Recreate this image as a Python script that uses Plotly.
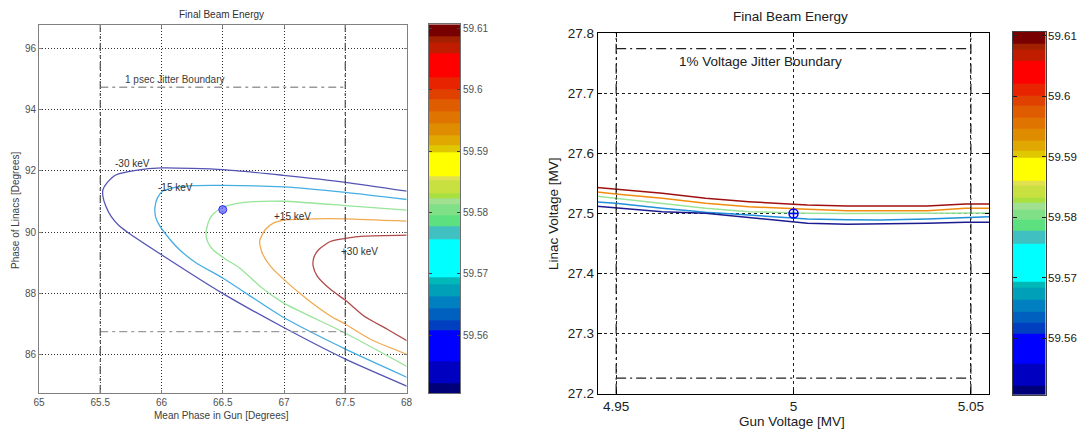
import plotly.graph_objects as go

# ---------------- data ----------------
# Left panel: Final beam energy contours vs gun phase / linac phase
left_levels = ["-30 keV", "-15 keV", "0 keV", "+15 keV", "+30 keV"]
left_m30_x = [68.01, 67.502, 66.995, 66.504, 66.005, 65.79, 65.627, 65.555, 65.522, 65.522, 65.545, 65.59, 65.65, 65.72, 66.003, 66.502, 66.998, 67.502, 68.01]
left_m30_y = [91.327, 91.62, 91.847, 92.033, 92.088, 92.01, 91.86, 91.6, 91.38, 91.15, 90.85, 90.5, 90.22, 90.0, 89.25, 87.99, 86.885, 85.854, 84.96]
left_m15_x = [68.01, 67.502, 66.995, 66.507, 66.253, 66.09, 66.008, 65.967, 65.946, 65.954, 65.987, 66.036, 66.145, 66.281, 66.499, 66.998, 67.502, 68.01]
left_m15_y = [91.057, 91.294, 91.47, 91.522, 91.512, 91.437, 91.327, 91.112, 90.787, 90.462, 90.189, 89.919, 89.431, 88.998, 88.5, 87.21, 86.179, 85.25]
left_0_x = [68.01, 67.502, 66.998, 66.75, 66.62, 66.5, 66.42, 66.385, 66.363, 66.375, 66.42, 66.527, 66.635, 66.834, 66.998, 67.502, 68.01]
left_0_y = [90.709, 90.862, 91.002, 90.99, 90.93, 90.8, 90.58, 90.35, 89.974, 89.7, 89.42, 89.106, 88.836, 88.13, 87.68, 86.699, 85.6]
left_p15_x = [68.01, 67.502, 67.243, 66.998, 66.916, 66.848, 66.801, 66.821, 66.889, 66.998, 67.189, 67.379, 67.502, 67.706, 68.01]
left_p15_y = [90.351, 90.429, 90.429, 90.39, 90.299, 90.081, 89.701, 89.323, 88.888, 88.455, 87.805, 87.262, 86.992, 86.504, 86.0]
left_p30_x = [68.01, 67.652, 67.502, 67.379, 67.284, 67.243, 67.238, 67.271, 67.379, 67.502, 67.652, 67.843, 68.01]
left_p30_y = [89.896, 89.863, 89.789, 89.691, 89.431, 89.161, 88.888, 88.563, 88.13, 87.772, 87.262, 86.829, 86.44]
left_center = (66.5, 90.73)
left_jitter_x = [65.5, 67.5]
left_jitter_y = [86.75, 94.72]

# Right panel: Final beam energy contours vs gun voltage / linac voltage
right_x = [4.944, 4.9499, 4.963, 4.9752, 4.9874, 4.9987, 5.0039, 5.0151, 5.0245, 5.0377, 5.0485, 5.056]
right_p30_y = [27.5436, 27.5407, 27.5336, 27.5253, 27.5196, 27.5158, 27.5141, 27.5125, 27.5125, 27.5125, 27.5158, 27.5158]
right_p15_y = [27.5362, 27.5324, 27.5253, 27.517, 27.5113, 27.5075, 27.507, 27.5047, 27.5047, 27.5047, 27.5087, 27.5087]
right_0_y = [27.5291, 27.5253, 27.517, 27.5087, 27.503, 27.501, 27.5004, 27.4998, 27.4998, 27.4998, 27.5004, 27.501]
right_m15_y = [27.5196, 27.517, 27.5087, 27.502, 27.4975, 27.4937, 27.4909, 27.4895, 27.4892, 27.491, 27.493, 27.4947]
right_m30_y = [27.5125, 27.5097, 27.503, 27.5004, 27.4937, 27.4864, 27.4837, 27.4821, 27.4825, 27.4837, 27.4854, 27.4854]
right_center = (5.0, 27.5)
right_jitter_x = [4.95, 5.05]
right_jitter_y = [27.2261, 27.7745]

# Colour bar (MeV): band edges, band colours, ticks
cbar_edges = [59.5506, 59.5522, 59.5558, 59.5608, 59.5625, 59.5644, 59.5663, 59.5683, 59.5694,
              59.5757, 59.5777, 59.5796, 59.5813, 59.5824, 59.5832, 59.5852, 59.5860, 59.5899,
              59.5910, 59.5926, 59.5946, 59.5965, 59.5985, 59.6001, 59.6021, 59.6059, 59.6077,
              59.6087, 59.6107]
cbar_colors = ["#000078", "#0000c0", "#0000ff", "#0040c0", "#0060c0", "#0080c0", "#00a0b8", "#00b8b8",
               "#00ffff", "#40c0c0", "#5ce080", "#80e088", "#a0e090", "#a8e040", "#c8e040", "#e0e050",
               "#ffff00", "#e0c800", "#e0a800", "#e08c00", "#e07400", "#e05c00", "#e04000", "#e82400",
               "#ff0000", "#c01c00", "#a02000", "#780000"]
cbar_ticks = [59.56, 59.57, 59.58, 59.59, 59.60, 59.61]
cbar_ticktext = ["59.56", "59.57", "59.58", "59.59", "59.6", "59.61"]

left_xticks = [65, 65.5, 66, 66.5, 67, 67.5, 68]
left_xticktext = ["65", "65.5", "66", "66.5", "67", "67.5", "68"]
left_yticks = [86, 88, 90, 92, 94, 96]
right_xticks = [4.95, 5.0, 5.05]
right_xticktext = ["4.95", "5", "5.05"]
right_yticks = [27.2, 27.3, 27.4, 27.5, 27.6, 27.7, 27.8]

# ---------------- styling / layout ----------------
# The page body adds an 8px margin all round; lay out in page pixels and keep the
# figure inside the visible page.
OX, OY = 8, 8
W, H = 1086 - 2 * OX, 437 - 2 * OY
FONT = "Liberation Sans, Arial, sans-serif"
def fx(px):
    return (px - OX) / W
def fy(py):
    return 1 - (py - OY) / H

left_colors = ["#5454b4", "#46aee4", "#98e498", "#f0aa50", "#b04a4a"]
right_colors = ["#a01010", "#f08c10", "#98e498", "#2090d8", "#1c1c90"]

fig = go.Figure()

# Left contours
left_lines = [(left_m30_x, left_m30_y), (left_m15_x, left_m15_y), (left_0_x, left_0_y),
              (left_p15_x, left_p15_y), (left_p30_x, left_p30_y)]
for (xs, ys), c, name in zip(left_lines, left_colors, left_levels):
    fig.add_trace(go.Scatter(x=xs, y=ys, mode="lines", line=dict(color=c, width=1.3, shape="spline", smoothing=0.6),
                             name=name, showlegend=False, xaxis="x", yaxis="y", hoverinfo="skip"))

# Left jitter boundary
LX0, LX1 = 65.0, 68.0
LY0, LY1 = 84.75, 96.75
for yv in left_jitter_y:
    fig.add_trace(go.Scatter(x=left_jitter_x, y=[yv, yv], mode="lines",
                             line=dict(color="#9a9a9a", width=1.3, dash="8px,4px,3px,4px"),
                             showlegend=False, xaxis="x", yaxis="y", hoverinfo="skip"))
for xv in left_jitter_x:
    fig.add_trace(go.Scatter(x=[xv, xv], y=[LY0, LY1], mode="lines",
                             line=dict(color="#505050", width=1.2, dash="8px,4px,3px,4px"),
                             showlegend=False, xaxis="x", yaxis="y", hoverinfo="skip"))

fig.add_trace(go.Scatter(x=[left_center[0]], y=[left_center[1]], mode="markers",
                         marker=dict(symbol="circle", size=8, color="rgba(100,100,255,0.75)",
                                     line=dict(color="#3030ff", width=1)),
                         showlegend=False, xaxis="x", yaxis="y", hoverinfo="skip"))

# Right contours
right_lines = [right_p30_y, right_p15_y, right_0_y, right_m15_y, right_m30_y]
for ys, c in zip(right_lines, right_colors):
    fig.add_trace(go.Scatter(x=right_x, y=ys, mode="lines", line=dict(color=c, width=1.5),
                             showlegend=False, xaxis="x3", yaxis="y3", hoverinfo="skip"))

RX0, RX1 = 4.9448, 5.0551
RY0, RY1 = 27.2, 27.8
for yv in right_jitter_y:
    fig.add_trace(go.Scatter(x=right_jitter_x, y=[yv, yv], mode="lines",
                             line=dict(color="#202020", width=1.2, dash="10px,4px,2px,4px"),
                             showlegend=False, xaxis="x3", yaxis="y3", hoverinfo="skip"))
for xv in right_jitter_x:
    fig.add_trace(go.Scatter(x=[xv, xv], y=[RY0, RY1], mode="lines",
                             line=dict(color="#202020", width=1.2, dash="10px,4px,2px,4px"),
                             showlegend=False, xaxis="x3", yaxis="y3", hoverinfo="skip"))

fig.add_trace(go.Scatter(x=[right_center[0]], y=[right_center[1]], mode="markers",
                         marker=dict(symbol="circle-cross-open", size=9, color="#0000ff",
                                     line=dict(color="#0000ff", width=1.5)),
                         showlegend=False, xaxis="x3", yaxis="y3", hoverinfo="skip"))

# Colour bars as heatmaps
n = len(cbar_colors)
cscale = []
for i, c in enumerate(cbar_colors):
    cscale.append([i / n, c])
    cscale.append([(i + 1) / n, c])
zcol = [[i] for i in range(n)]
for xa, ya in (("x2", "y2"), ("x4", "y4")):
    fig.add_trace(go.Heatmap(x=[0, 1], y=cbar_edges, z=zcol, colorscale=cscale, zmin=-0.5, zmax=n - 0.5,
                             showscale=False, xaxis=xa, yaxis=ya, hoverinfo="skip"))

# Axes
left_tick_font = dict(family=FONT, size=10, color="#505050")
right_tick_font = dict(family=FONT, size=13.5, color="#202020")
cbar_tick_font = dict(family=FONT, size=11.5, color="#202020")

fig.update_layout(
    width=W, height=H, margin=dict(l=0, r=0, t=0, b=0, pad=0, autoexpand=False),
    paper_bgcolor="white", plot_bgcolor="white", showlegend=False,
    xaxis=dict(domain=[fx(39), fx(406.5)], range=[LX0, LX1], tickvals=left_xticks, ticktext=left_xticktext,
               ticks="inside", ticklen=3, tickcolor="#808080", showline=True, linecolor="#808080", linewidth=1,
               mirror="ticks", showgrid=True, gridcolor="#303030", griddash="1px,2px", gridwidth=1,
               zeroline=False, tickfont=left_tick_font, anchor="y", automargin=False),
    yaxis=dict(domain=[fy(393), fy(25)], range=[LY0, LY1], tickvals=left_yticks,
               ticks="inside", ticklen=3, tickcolor="#808080", showline=True, linecolor="#808080", linewidth=1,
               mirror="ticks", showgrid=True, gridcolor="#303030", griddash="1px,2px", gridwidth=1,
               zeroline=False, tickfont=left_tick_font, anchor="x", automargin=False),
    xaxis2=dict(domain=[fx(429), fx(460)], range=[0, 1], showticklabels=False, ticks="", showgrid=False,
                zeroline=False, showline=True, linecolor="#707070", mirror=True, anchor="y2", automargin=False),
    yaxis2=dict(domain=[fy(393), fy(24.3)], range=[cbar_edges[0], cbar_edges[-1]], side="right",
                tickvals=cbar_ticks, ticktext=cbar_ticktext, ticks="inside", ticklen=3, tickcolor="#404040",
                showline=True, linecolor="#707070", mirror="ticks", showgrid=False, zeroline=False,
                tickfont=left_tick_font, anchor="x2", automargin=False),
    xaxis3=dict(domain=[fx(597.7), fx(989)], range=[RX0, RX1], tickvals=right_xticks, ticktext=right_xticktext,
                ticks="inside", ticklen=4, tickcolor="black", showline=True, linecolor="black", linewidth=1,
                mirror="ticks", showgrid=True, gridcolor="#202020", griddash="3px,3px", gridwidth=1,
                zeroline=False, tickfont=right_tick_font, anchor="y3", automargin=False),
    yaxis3=dict(domain=[fy(394), fy(33)], range=[RY0 - 0.0004, RY1 + 0.0004], tickvals=right_yticks,
                ticks="inside", ticklen=4, tickcolor="black", showline=True, linecolor="black", linewidth=1,
                mirror="ticks", showgrid=True, gridcolor="#202020", griddash="3px,3px", gridwidth=1,
                zeroline=False, tickfont=right_tick_font, anchor="x3", automargin=False),
    xaxis4=dict(domain=[fx(1012.7), fx(1045.7)], range=[0, 1], showticklabels=False, ticks="", showgrid=False,
                zeroline=False, showline=True, linecolor="#404040", mirror=True, anchor="y4", automargin=False),
    yaxis4=dict(domain=[fy(395), fy(31.7)], range=[cbar_edges[0], cbar_edges[-1]], side="right",
                tickvals=cbar_ticks, ticktext=cbar_ticktext, ticks="inside", ticklen=4, tickcolor="#202020",
                showline=True, linecolor="#404040", mirror="ticks", showgrid=False, zeroline=False,
                tickfont=cbar_tick_font, anchor="x4", automargin=False, ticklabelstandoff=-1),
)

ann = []
def txt(text, px, py, size, color, angle=0, xanchor="center"):
    ann.append(dict(text=text, x=fx(px), y=fy(py), xref="paper", yref="paper", showarrow=False,
                    xanchor=xanchor, yanchor="middle", textangle=angle,
                    font=dict(family=FONT, size=size, color=color)))

# Left panel texts
txt("Final Beam Energy", 221, 14.7, 10, "#303030")
txt("Mean Phase in Gun [Degrees]", 221, 415, 10, "#404040")
txt("Phase of Linacs [Degrees]", 15, 210, 10, "#404040", angle=-90)
# Right panel texts
txt("Final Beam Energy", 790.7, 16.7, 13.5, "#202020")
txt("Gun Voltage [MV]", 791.7, 421, 13.5, "#202020")
txt("Linac Voltage [MV]", 553, 214, 13.5, "#202020", angle=-90)

# Data-anchored labels
label_pos = [(65.76, 92.25), (66.112, 91.457), (67.069, 90.514), (67.617, 89.376)]
label_txt = ["-30 keV", "-15 keV", "+15 keV", "+30 keV"]
for (lx, ly), t in zip(label_pos, label_txt):
    ann.append(dict(text=t, x=lx, y=ly, xref="x", yref="y", showarrow=False,
                    font=dict(family=FONT, size=10, color="#303030")))
ann.append(dict(text="1 psec Jitter Boundary", x=66.112, y=94.96, xref="x", yref="y", showarrow=False,
                font=dict(family=FONT, size=10, color="#404040")))
ann.append(dict(text="1% Voltage Jitter Boundary", x=4.9906, y=27.7523, xref="x3", yref="y3", showarrow=False,
                font=dict(family=FONT, size=13.5, color="#202020")))

fig.update_layout(annotations=ann)

fig.write_html("out.html")
